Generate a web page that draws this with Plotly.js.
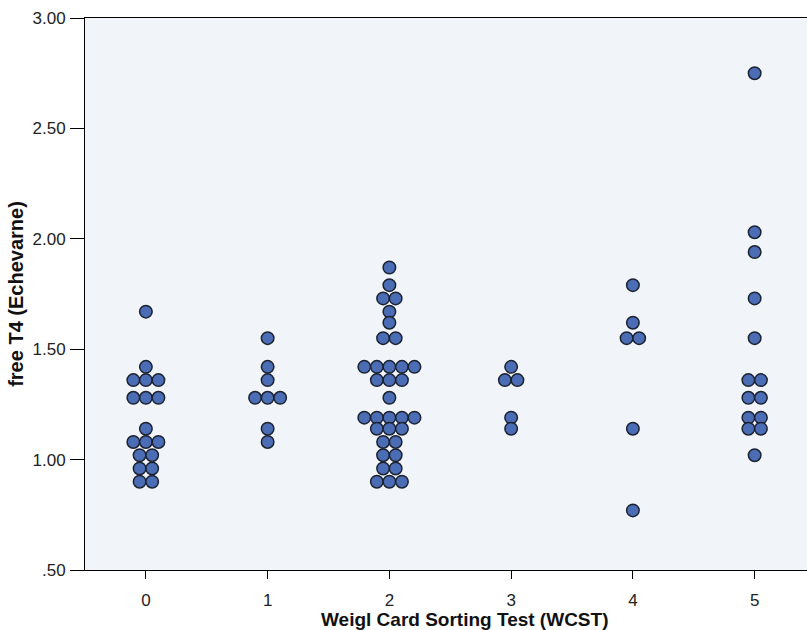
<!DOCTYPE html>
<html>
<head>
<meta charset="utf-8">
<script src="https://cdn.plot.ly/plotly-3.0.1.min.js"></script>
<style>html,body{margin:0;padding:0;background:#fff;}#chart{width:807px;height:630px;}</style>
</head>
<body>
<div id="chart"></div>
<script>
// WCST score categories
const categories = [0, 1, 2, 3, 4, 5];
// free T4 values per WCST score
const wcst0 = [1.67, 1.42, 1.36, 1.36, 1.36, 1.28, 1.28, 1.28, 1.14, 1.08, 1.08, 1.08, 1.02, 1.02, 0.96, 0.96, 0.90, 0.90];
const wcst1 = [1.55, 1.42, 1.36, 1.28, 1.28, 1.28, 1.14, 1.08];
const wcst2 = [1.87, 1.79, 1.73, 1.73, 1.67, 1.62, 1.55, 1.55, 1.42, 1.42, 1.42, 1.42, 1.42, 1.36, 1.36, 1.36, 1.28,
               1.19, 1.19, 1.19, 1.19, 1.19, 1.14, 1.14, 1.14, 1.08, 1.08, 1.02, 1.02, 0.96, 0.96, 0.90, 0.90, 0.90];
const wcst3 = [1.42, 1.36, 1.36, 1.19, 1.14];
const wcst4 = [1.79, 1.62, 1.55, 1.55, 1.14, 0.77];
const wcst5 = [2.75, 2.03, 1.94, 1.73, 1.55, 1.36, 1.36, 1.28, 1.28, 1.19, 1.19, 1.14, 1.14, 1.02];
const yTickVals = [0.5, 1.0, 1.5, 2.0, 2.5, 3.0];
const yTickText = [".50", "1.00", "1.50", "2.00", "2.50", "3.00"];
const xTitle = 'Weigl Card Sorting Test (WCST)';
const yTitle = 'free T4 (Echevarne)';

const groups = [wcst0, wcst1, wcst2, wcst3, wcst4, wcst5];
const dotWidth = 0.103; // horizontal spacing of stacked dots, in x units

const xs = [], ys = [];
groups.forEach((vals, gi) => {
  const counts = {};
  vals.forEach(v => { counts[v] = (counts[v] || 0) + 1; });
  const seen = {};
  vals.forEach(v => {
    const n = counts[v];
    const i = seen[v] || 0;
    seen[v] = i + 1;
    xs.push(categories[gi] + (i - (n - 1) / 2) * dotWidth);
    ys.push(v);
  });
});

const trace = {
  type: 'scatter',
  mode: 'markers',
  x: xs,
  y: ys,
  marker: {size: 12.5, color: '#4a6db5', line: {color: '#1c2230', width: 1.5}},
  hoverinfo: 'skip'
};

const fam = 'Liberation Sans, Arial, sans-serif';
const layout = {
  width: 807, height: 630,
  margin: {l: 85, r: 0, t: 18, b: 60},
  paper_bgcolor: '#ffffff',
  plot_bgcolor: '#f1f5fa',
  showlegend: false,
  font: {family: fam, color: '#222'},
  xaxis: {
    range: [-0.5, 5.43],
    tickvals: categories,
    ticktext: categories.map(String),
    ticks: 'outside', ticklen: 8, tickcolor: '#000', tickwidth: 1,
    ticklabelstandoff: 7,
    showline: true, linecolor: '#000', linewidth: 1, mirror: true,
    showgrid: false, zeroline: false,
    tickfont: {family: fam, size: 17, color: '#222'}
  },
  yaxis: {
    range: [0.5, 3.0],
    tickvals: yTickVals,
    ticktext: yTickText,
    ticks: 'outside', ticklen: 14, tickcolor: '#000', tickwidth: 1,
    ticklabelstandoff: 1,
    showline: true, linecolor: '#000', linewidth: 1, mirror: false,
    showgrid: false, zeroline: false,
    tickfont: {family: fam, size: 17, color: '#222'},
    title: {text: yTitle, standoff: 3,
            font: {family: fam, size: 20, color: '#111', weight: 'bold'}}
  },
  annotations: [{
    text: xTitle, xref: 'paper', yref: 'paper', x: 0.526, y: 0,
    xanchor: 'center', yanchor: 'middle', yshift: -49, showarrow: false,
    font: {family: fam, size: 19, color: '#111', weight: 'bold'}
  }]
};

Plotly.newPlot('chart', [trace], layout, {displayModeBar: false, staticPlot: true});
</script>
</body>
</html>
